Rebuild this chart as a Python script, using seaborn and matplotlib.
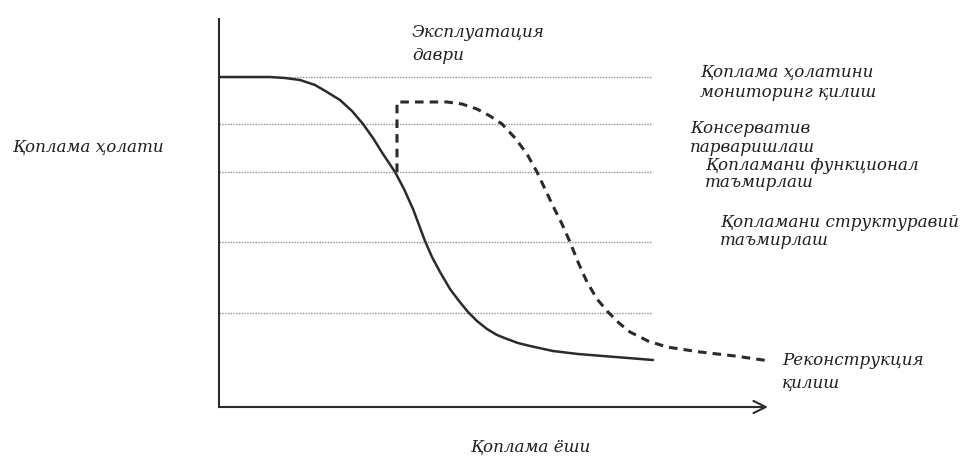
import numpy as np
import pandas as pd
import matplotlib
matplotlib.use("Agg")
import matplotlib.pyplot as plt
import seaborn as sns

# pavement age (0..100 along the x axis) vs pavement condition (0..100)
age_base = [0, 5.65, 9.29, 12.02, 14.75, 17.49, 19.67, 22.04, 24.23, 26.23, 28.05,
            29.87, 32.06, 33.70, 35.34, 36.43, 37.52, 38.80, 40.26, 42.08, 43.72,
            45.36, 46.99, 48.82, 50.64, 52.46, 54.46, 56.65, 60.84, 65.39, 69.95,
            74.50, 79.05]
cond_base = [85.05, 85.05, 85.05, 84.79, 84.28, 82.99, 81.19, 79.12, 76.29, 72.94,
             69.33, 65.21, 60.57, 56.19, 51.03, 46.91, 42.78, 38.66, 34.79, 30.41,
             27.32, 24.48, 22.16, 20.10, 18.56, 17.53, 16.49, 15.72, 14.43, 13.66,
             13.14, 12.63, 12.11]

age_treated = [32.42, 32.42, 41.53, 44.26, 46.99, 49.36, 51.55, 53.92, 56.10, 57.92,
               59.38, 60.84, 62.48, 63.93, 65.39, 67.03, 68.85, 70.86, 72.86, 74.86,
               78.14, 81.60, 87.61, 93.99, 100.36]
cond_treated = [60.57, 78.61, 78.61, 78.09, 76.80, 75.0, 72.94, 69.33, 65.21, 60.57,
                56.19, 51.80, 47.16, 42.53, 37.37, 32.22, 27.84, 24.48, 21.65, 19.33,
                17.01, 15.46, 14.18, 13.14, 11.86]

level_values = [85.1, 72.9, 60.6, 42.5, 24.2]
level_end = 78.9

level_labels = [
    ["Қоплама ҳолатини", "мониторинг қилиш"],
    ["Консерватив", "парваришлаш"],
    ["Қопламани функционал", "таъмирлаш"],
    ["Қопламани структуравий", "таъмирлаш"],
    ["Реконструкция", "қилиш"],
]
period_label = ["Эксплуатация", "даври"]
y_label = "Қоплама ҳолати"
x_label = "Қоплама ёши"

sns.set_style("white")
plt.rcParams["font.family"] = ["DejaVu Serif"]

W, H = 971, 460
fig = plt.figure(figsize=(W / 100, H / 100), dpi=100)
ax = fig.add_axes([219 / W, 1 - 408 / H, (768 - 219) / W, (408 - 20) / H])
ax.set_xlim(0, 100)
ax.set_ylim(0, 100)

ink = "#2b2b2b"

for lv in level_values:
    ax.plot([0, level_end], [lv, lv], color="#8f8f8f", lw=1.0,
            linestyle=(0, (1, 1)))

base_df = pd.DataFrame({"age": age_base, "cond": cond_base})
treat_df = pd.DataFrame({"age": age_treated, "cond": cond_treated})
sns.lineplot(data=base_df, x="age", y="cond", ax=ax, color=ink, lw=1.8,
             sort=False, estimator=None)
sns.lineplot(data=treat_df, x="age", y="cond", ax=ax, color=ink, lw=2.2,
             sort=False, estimator=None, linestyle=(0, (2.8, 2.0)))

# axes: plain vertical line, x axis with open arrow
for s in ["top", "right", "bottom"]:
    ax.spines[s].set_visible(False)
ax.spines["left"].set_color(ink)
ax.spines["left"].set_linewidth(1.5)
ax.annotate("", xy=(100, 0), xytext=(0, 0), xycoords="data",
            arrowprops=dict(arrowstyle="->", color=ink, lw=1.5,
                            mutation_scale=22, shrinkA=0, shrinkB=0),
            annotation_clip=False)
ax.set_xticks([])
ax.set_yticks([])
ax.set_xlabel("")
ax.set_ylabel("")

txt = dict(fontstyle="italic", fontsize=12.1, color="#1e1e1e", va="baseline",
           ha="left")


def put(x, y, s, **kw):
    opts = dict(txt)
    opts.update(kw)
    fig.text(x / W, 1 - y / H, s, **opts)


label_pos = [(700, 77, 97), (690, 133, 152), (705, 170, 187), (720, 227, 245),
             (782, 365, 388)]
for (x, y1, y2), (l1, l2) in zip(label_pos, level_labels):
    put(x, y1, l1)
    put(x, y2, l2)

put(412, 37, period_label[0])
put(412, 60, period_label[1])
put(12, 152, y_label)
put(530, 452, x_label, ha="center")

fig.savefig("out.png", dpi=100)
